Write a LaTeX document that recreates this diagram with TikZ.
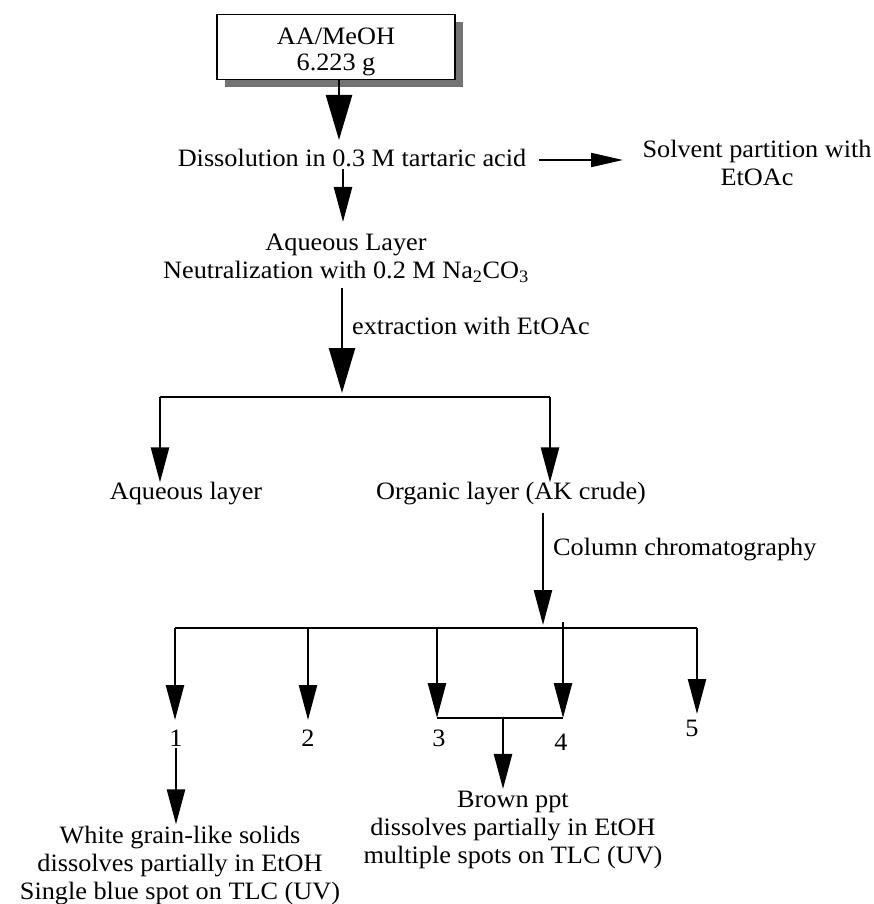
\documentclass[tikz,border=0pt]{standalone}
\usepackage{fontspec}
\setmainfont{Liberation Serif}[FakeStretch=1.05]
\usepackage{tikz}
\usetikzlibrary{arrows.meta,shadows}

\begin{document}
\begin{tikzpicture}[x=1pt,y=-1pt,font=\fontsize{25pt}{28pt}\selectfont]
\tikzset{txt/.style={align=center,inner sep=2pt}}
\tikzset{srcbox/.style={draw,line width=1.8pt,fill=white,minimum width=238pt,minimum height=65pt,align=center,
  text height=52pt,drop shadow={shadow xshift=8pt,shadow yshift=-8pt,fill=black!55,opacity=1}}}
\tikzset{bigarr/.style={line width=2.4pt,-{Triangle[length=45pt,width=26pt]}}}
\tikzset{arr/.style={line width=2.4pt,-{Triangle[length=35pt,width=18pt]}}}
\tikzset{harr/.style={line width=2pt,-{Triangle[length=32pt,width=14pt]}}}
\tikzset{bar/.style={line width=1.8pt}}
\useasboundingbox (0,0) rectangle (874,904);
\node[srcbox] (src) at (336,47) {AA/MeOH\\[-2pt]6.223 g};
\node[txt] (diss) at (352,158) {Dissolution in 0.3 M tartaric acid};
\node[txt] (solv) at (757,163) {Solvent partition with\\EtOAc};
\node[txt] (aq) at (346,258) {Aqueous Layer\\Neutralization with 0.2 M Na\textsubscript{2}CO\textsubscript{3}};
\node[txt,anchor=west] (extr) at (350,326) {extraction with EtOAc};
\node[txt] (aqlay) at (186,494) {Aqueous layer};
\node[txt] (org) at (511,494) {Organic layer (AK crude)};
\node[txt,anchor=west] (col) at (551,550) {Column chromatography};
\node[txt] (white) at (180,866) {White grain-like solids\\dissolves partially in EtOH\\Single blue spot on TLC (UV)};
\node[txt] (brown) at (513,830) {Brown ppt\\dissolves partially in EtOH\\multiple spots on TLC (UV)};
\foreach \i/\x/\ly in {1/176/738,2/308/738,3/439/738,4/561/742,5/692/728}
  \node[txt] (n\i) at (\x,\ly) {\i};
\coordinate (a1) at (339,140);
\coordinate (a2) at (343,222);
\coordinate (a3) at (342,393);
\coordinate (a4) at (543,625);
\coordinate (h1) at (623,160);
\coordinate (s1L) at (160,397);
\coordinate (s1R) at (550,397);
\coordinate (m34) at (503,718);
\draw[bigarr] (src.south -| a1) -- (a1);
\draw[arr] (diss.south -| a2) -- (a2);
\draw[harr] ([xshift=11pt]diss.east |- h1) -- (h1);
\draw[bigarr] ([yshift=-4pt]aq.south -| a3) -- (a3);
\draw[bar] (s1L) -- (s1R);
\draw[arr] (s1L) -- ([yshift=-2pt]aqlay.north -| s1L);
\draw[arr] (s1R) -- ([yshift=-2pt]org.north -| s1R);
\draw[arr] ([yshift=-5pt]org.south -| a4) -- (a4);
\foreach \i/\x/\t in {1/175/720,2/308/720,3/437/718,4/563/718,5/697/714} {
  \coordinate (f\i) at (\x,628);
  \coordinate (t\i) at (\x,\t);
}
\draw[bar] (f1) -- (f5);
\foreach \i in {1,2,3,5}
  \draw[arr] (f\i) -- (t\i);
\draw[arr] ([yshift=6pt]f4) -- (t4);
\draw[bar] (t3) -- (t4);
\draw[arr] (m34) -- (brown.north -| m34);
\draw[arr] (n1.south) -- (white.north -| n1);
\end{tikzpicture}
\end{document}
